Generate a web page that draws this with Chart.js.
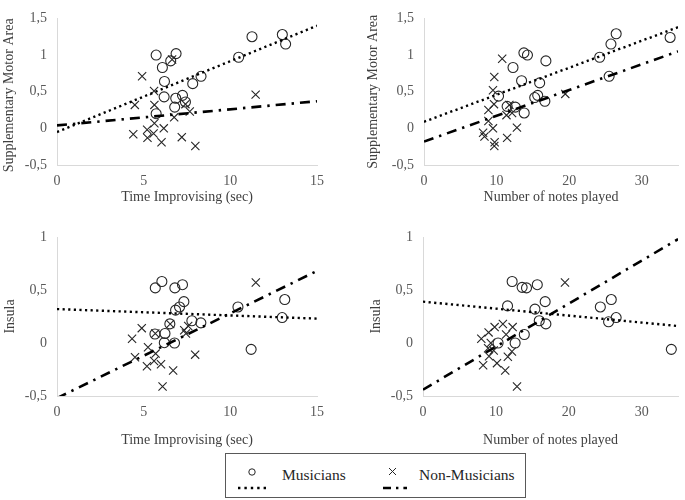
<!DOCTYPE html>
<html>
<head>
<meta charset="utf-8">
<script src="https://cdn.jsdelivr.net/npm/chart.js@4"></script>
<style>
	body { margin: 0; background: #fff; width: 685px; height: 500px; position: relative; overflow: hidden; font-family: "Liberation Serif", "Times New Roman", serif; }
	canvas { position: absolute; }
	#legend { position: absolute; left: 225px; top: 453px; width: 299px; height: 43px; border: 1px solid #595959; }
	#legend span { position: absolute; top: 12px; font-family: "Liberation Serif", "Times New Roman", serif; font-size: 15.5px; color: #262626; }
	#legend svg { position: absolute; left: 0; top: 0; }
</style>
</head>
<body>
<canvas id="tl" width="340" height="210" style="left:0;top:0"></canvas>
<canvas id="tr" width="345" height="210" style="left:340px;top:0"></canvas>
<canvas id="bl" width="340" height="238" style="left:0;top:215px"></canvas>
<canvas id="br" width="345" height="238" style="left:340px;top:215px"></canvas>

<div id="legend">
	<svg width="299" height="43">
		<circle cx="26" cy="18" r="3.2" fill="none" stroke="#262626" stroke-width="1"/>
		<line x1="12" y1="34" x2="42" y2="34" stroke="#000" stroke-width="2.4" stroke-dasharray="2.4,4"/>
		<line x1="163" y1="14" x2="170" y2="21" stroke="#262626" stroke-width="1"/>
		<line x1="170" y1="14" x2="163" y2="21" stroke="#262626" stroke-width="1"/>
		<line x1="157" y1="34" x2="181" y2="34" stroke="#000" stroke-width="2.6" stroke-dasharray="8,5,2.4,5"/>
	</svg>
	<span style="left:56px">Musicians</span>
	<span style="left:193px">Non-Musicians</span>
</div>

<script>
// Supplementary Motor Area vs time improvising (sec)
var smaTimeMusX = [5.72, 6.87, 6.56, 6.08, 6.2, 6.18, 5.72, 6.85, 7.24, 7.41, 6.79, 7.83, 8.31, 10.48, 11.25, 13.0, 13.19];
var smaTimeMusY = [1.00, 1.02, 0.92, 0.83, 0.64, 0.43, 0.20, 0.41, 0.45, 0.36, 0.29, 0.61, 0.71, 0.97, 1.25, 1.28, 1.15];
var smaTimeNonX = [4.91, 5.6, 5.62, 4.49, 6.64, 4.4, 5.2, 5.22, 5.57, 5.62, 6.16, 6.03, 7.2, 7.98, 6.76, 7.41, 7.66, 11.46];
var smaTimeNonY = [0.71, 0.51, 0.32, 0.32, 0.94, -0.08, -0.02, -0.13, -0.07, 0.07, 0.0, -0.19, -0.12, -0.24, 0.15, 0.33, 0.23, 0.46];
var smaTimeFitX = [0, 15];
var smaTimeMusFit = [-0.05, 1.40];
var smaTimeNonFit = [0.04, 0.37];

// Supplementary Motor Area vs number of notes played
var smaNotesMusX = [13.76, 14.25, 12.26, 16.79, 13.44, 15.93, 10.27, 11.45, 12.58, 13.8, 15.25, 15.66, 16.65, 24.2, 25.5, 25.75, 26.47, 33.9];
var smaNotesMusY = [1.03, 1.0, 0.83, 0.92, 0.65, 0.62, 0.44, 0.30, 0.29, 0.21, 0.42, 0.45, 0.37, 0.97, 0.71, 1.15, 1.29, 1.24];
var smaNotesNonX = [10.77, 9.68, 9.5, 9.64, 8.87, 8.87, 9.5, 8.14, 8.33, 9.73, 9.68, 11.45, 12.8, 11.36, 11.76, 12.13, 19.46];
var smaNotesNonY = [0.95, 0.70, 0.52, 0.33, 0.25, 0.10, 0.0, -0.06, -0.11, -0.19, -0.24, -0.13, 0.01, 0.18, 0.32, 0.21, 0.47];
var smaNotesFitX = [0, 35];
var smaNotesMusFit = [0.09, 1.38];
var smaNotesNonFit = [-0.18, 1.05];

// Insula vs time improvising (sec)
var insTimeMusX = [6.05, 5.67, 6.8, 7.24, 7.32, 7.07, 6.84, 6.51, 7.78, 8.3, 5.65, 6.23, 6.19, 6.78, 10.44, 11.2, 12.99, 13.14];
var insTimeMusY = [0.58, 0.52, 0.52, 0.55, 0.39, 0.34, 0.31, 0.18, 0.21, 0.19, 0.085, 0.09, 0.003, 0.0, 0.34, -0.06, 0.24, 0.41];
var insTimeNonX = [4.89, 4.33, 5.25, 5.69, 4.5, 5.19, 6.0, 6.7, 6.09, 5.67, 6.53, 7.34, 7.57, 7.44, 7.97, 11.47, 5.6];
var insTimeNonY = [0.14, 0.04, -0.04, -0.10, -0.135, -0.22, -0.20, -0.26, -0.41, 0.09, 0.18, 0.12, 0.16, 0.09, -0.11, 0.57, -0.17];
var insTimeFitX = [0, 15];
var insTimeMusFit = [0.32, 0.23];
var insTimeNonFit = [-0.52, 0.68];

// Insula vs number of notes played
var insNotesMusX = [12.23, 13.6, 14.2, 15.68, 11.6, 15.36, 16.76, 15.95, 16.86, 13.9, 10.3, 12.64, 24.33, 25.83, 26.5, 25.46, 34.07];
var insNotesMusY = [0.58, 0.525, 0.52, 0.55, 0.35, 0.32, 0.39, 0.21, 0.18, 0.08, 0.0, 0.0, 0.34, 0.41, 0.24, 0.20, -0.06];
var insNotesNonX = [19.48, 12.9, 8.0, 9.0, 9.83, 10.96, 12.3, 11.4, 8.93, 9.7, 9.06, 8.25, 10.15, 11.28, 11.64, 12.2, 9.3];
var insNotesNonY = [0.57, -0.41, 0.04, 0.10, 0.15, 0.18, 0.15, 0.08, -0.05, -0.07, -0.125, -0.21, -0.19, -0.26, -0.13, -0.08, 0.0];
var insNotesFitX = [0, 35];
var insNotesMusFit = [0.39, 0.16];
var insNotesNonFit = [-0.44, 0.98];

var tickColor = '#595959';
var titleColor = '#404040';
var fontFamily = '"Liberation Serif", "Times New Roman", serif';

function pairs(xs, ys) {
	return xs.map(function (x, i) { return { x: x, y: ys[i] }; });
}

function comma(v) {
	return String(v).replace('.', ',');
}

// p = pixel layout of one panel inside its canvas
function draw_panel(id, p, d) {
	var ctx = document.getElementById(id).getContext('2d');
	var w = ctx.canvas.width, h = ctx.canvas.height;
	var padLeft = p.titleX - 8;

	return new Chart(ctx, {
		type: 'scatter',
		data: {
			datasets: [
				{
					data: pairs(d.fitX, d.musFit), showLine: true, pointRadius: 0,
					borderColor: '#000', borderWidth: 2.4, borderDash: [2.2, 3.4]
				},
				{
					data: pairs(d.fitX, d.nonFit), showLine: true, pointRadius: 0,
					borderColor: '#000', borderWidth: 2.6, borderDash: [10, 6, 2.4, 6]
				},
				{
					data: pairs(d.musX, d.musY), pointStyle: 'circle', pointRadius: 5,
					borderColor: '#262626', backgroundColor: 'rgba(0,0,0,0)', borderWidth: 1.1
				},
				{
					data: pairs(d.nonX, d.nonY), pointStyle: 'crossRot', pointRadius: 5.8,
					borderColor: '#262626', borderWidth: 1.1
				}
			]
		},
		options: {
			animation: false,
			responsive: false,
			layout: { padding: { left: padLeft, top: p.top, right: w - p.right, bottom: 0 } },
			plugins: { legend: { display: false }, tooltip: { enabled: false } },
			scales: {
				x: {
					type: 'linear', min: 0, max: d.xMax,
					ticks: { stepSize: d.xStep, includeBounds: false, padding: 8, color: tickColor, font: { family: fontFamily, size: 14 }, callback: comma },
					grid: { display: false, drawTicks: false },
					border: { display: true, color: '#d9d9d9', width: 1 },
					title: { display: true, text: d.xTitle, color: titleColor, font: { family: fontFamily, size: 14 }, padding: { top: 0, bottom: 4 } },
					afterFit: function (s) { s.height = h - p.bottom; }
				},
				y: {
					type: 'linear', min: -0.5, max: d.yMax,
					ticks: { stepSize: 0.5, padding: 10, color: tickColor, font: { family: fontFamily, size: 14 }, callback: comma },
					grid: { display: false, drawTicks: false },
					border: { display: true, color: '#d9d9d9', width: 1 },
					title: { display: true, text: d.yTitle, align: p.titleAlign || 'center', color: titleColor, font: { family: fontFamily, size: 14 }, padding: 0 },
					afterFit: function (s) { s.width = p.axis - padLeft; }
				}
			}
		}
	});
}

window.onload = function () {
	draw_panel('tl', { axis: 57, top: 7, right: 317, bottom: 165, titleX: 9, titleAlign: 'end' }, {
		musX: smaTimeMusX, musY: smaTimeMusY, nonX: smaTimeNonX, nonY: smaTimeNonY,
		fitX: smaTimeFitX, musFit: smaTimeMusFit, nonFit: smaTimeNonFit,
		xMax: 15, xStep: 5, yMax: 1.5, xTitle: 'Time Improvising (sec)', yTitle: 'Supplementary Motor Area'
	});
	draw_panel('tr', { axis: 84, top: 7, right: 342, bottom: 165, titleX: 33 }, {
		musX: smaNotesMusX, musY: smaNotesMusY, nonX: smaNotesNonX, nonY: smaNotesNonY,
		fitX: smaNotesFitX, musFit: smaNotesMusFit, nonFit: smaNotesNonFit,
		xMax: 35, xStep: 10, yMax: 1.5, xTitle: 'Number of notes played', yTitle: 'Supplementary Motor Area'
	});
	draw_panel('bl', { axis: 57, top: 22, right: 317, bottom: 181, titleX: 10 }, {
		musX: insTimeMusX, musY: insTimeMusY, nonX: insTimeNonX, nonY: insTimeNonY,
		fitX: insTimeFitX, musFit: insTimeMusFit, nonFit: insTimeNonFit,
		xMax: 15, xStep: 5, yMax: 1, xTitle: 'Time Improvising (sec)', yTitle: 'Insula'
	});
	draw_panel('br', { axis: 83, top: 22, right: 342, bottom: 181, titleX: 36 }, {
		musX: insNotesMusX, musY: insNotesMusY, nonX: insNotesNonX, nonY: insNotesNonY,
		fitX: insNotesFitX, musFit: insNotesMusFit, nonFit: insNotesNonFit,
		xMax: 35, xStep: 10, yMax: 1, xTitle: 'Number of notes played', yTitle: 'Insula'
	});
};
</script>
</body>
</html>
